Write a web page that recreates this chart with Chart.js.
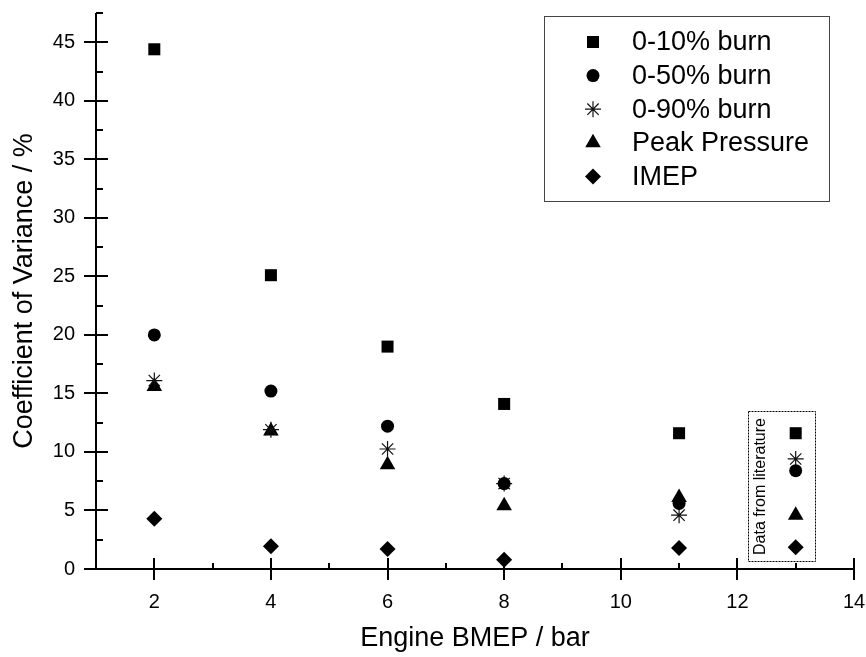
<!DOCTYPE html>
<html>
<head>
<meta charset="utf-8">
<title>Coefficient of Variance vs BMEP</title>
<script src="https://cdn.jsdelivr.net/npm/chart.js@4.4.0/dist/chart.umd.min.js"></script>
<style>
	body { margin: 0; background: #fff; }
	canvas { display: block; }
</style>
</head>
<body>
<canvas id="myChart" width="866" height="657"></canvas>
<script>
// engine BMEP in bar, the last column (13) is the data from literature
var bmep = [2, 4, 6, 8, 11, 13];
var burn10 = [44.4, 25.1, 19.0, 14.1, 11.6, 11.6];
var burn50 = [20.0, 15.2, 12.2, 7.3, 5.6, 8.4];
var burn90 = [16.1, 11.9, 10.25, 7.3, 4.6, 9.4];
var peakPressure = [15.6, 11.8, 8.9, 5.4, 6.1, 4.6];
var imep = [4.3, 1.95, 1.7, 0.8, 1.8, 1.85];

var xTicks = [2, 4, 6, 8, 10, 12, 14];
var yTicks = [0, 5, 10, 15, 20, 25, 30, 35, 40, 45];

Chart.defaults.font.family = "'Liberation Sans', Arial, sans-serif";
Chart.defaults.color = '#000';

function points(values) {
	return values.map(function(v, i) {
		return { x: bmep[i], y: v };
	});
}

function series(label, values, style, radius) {
	return {
		label: label,
		data: points(values),
		pointStyle: style,
		pointRadius: radius,
		pointHoverRadius: radius,
		backgroundColor: '#000',
		borderColor: style === 'star' ? '#111' : '#000',
		borderWidth: style === 'star' ? 1.2 : 0
	};
}

// no extra room round the plot, the layout padding decides it
function noPadding(scale) {
	scale.paddingTop = 0;
	scale.paddingBottom = 0;
	scale.paddingLeft = 0;
	scale.paddingRight = 0;
}

// ticks crossing the axes, minor ticks inside
var axesPlugin = {
	id: 'axesPlugin',
	afterDraw: function(chart) {
		var ctx = chart.ctx;
		var area = chart.chartArea;
		var xs = chart.scales.x, ys = chart.scales.y;
		ctx.save();
		ctx.strokeStyle = '#000';
		ctx.lineWidth = 2;
		ctx.beginPath();
		ctx.moveTo(area.left, area.top);
		ctx.lineTo(area.left, area.bottom);
		ctx.lineTo(area.right, area.bottom);
		xs.ticks.forEach(function(t) {
			var px = Math.round(xs.getPixelForValue(t.value));
			ctx.moveTo(px, area.bottom - 11);
			ctx.lineTo(px, area.bottom + 11);
		});
		for (var v = 1; v < 14; v += 2) {
			var mx = Math.round(xs.getPixelForValue(v));
			ctx.moveTo(mx, area.bottom);
			ctx.lineTo(mx, area.bottom - 6);
		}
		ys.ticks.forEach(function(t) {
			var py = Math.round(ys.getPixelForValue(t.value));
			ctx.moveTo(area.left - 12, py);
			ctx.lineTo(area.left + 12, py);
		});
		for (var w = 2.5; w <= 47.5; w += 5) {
			var my = Math.round(ys.getPixelForValue(w));
			ctx.moveTo(area.left, my);
			ctx.lineTo(area.left + 7, my);
		}
		ctx.stroke();
		ctx.restore();
	}
};

// boxed legend in the top right corner
var legendPlugin = {
	id: 'legendPlugin',
	afterDraw: function(chart) {
		var ctx = chart.ctx;
		var area = chart.chartArea;
		var right = area.right - 25, top = area.top + 3;
		var left = right - 285;
		ctx.save();
		ctx.strokeStyle = '#444';
		ctx.lineWidth = 1;
		ctx.strokeRect(left + 0.5, top + 0.5, 285, 185);
		ctx.font = "27px 'Liberation Sans', Arial, sans-serif";
		ctx.textBaseline = 'middle';
		ctx.textAlign = 'left';
		chart.data.datasets.forEach(function(ds, i) {
			var y = top + 26 + i * 33.6;
			ctx.fillStyle = ds.backgroundColor;
			ctx.strokeStyle = ds.borderColor;
			ctx.lineWidth = ds.borderWidth;
			Chart.helpers.drawPoint(ctx, {
				pointStyle: ds.pointStyle,
				radius: ds.pointRadius,
				borderWidth: ds.borderWidth,
				rotation: 0
			}, left + 49, y);
			ctx.fillStyle = '#000';
			ctx.fillText(ds.label, left + 88, y + 1);
		});
		ctx.restore();
	}
};

// dotted box round the literature values
var literaturePlugin = {
	id: 'literaturePlugin',
	afterDraw: function(chart) {
		var ctx = chart.ctx;
		var xs = chart.scales.x, ys = chart.scales.y;
		var x0 = Math.round(xs.getPixelForValue(12.19)) + 0.5;
		var x1 = Math.round(xs.getPixelForValue(13.33)) + 0.5;
		var y0 = Math.round(ys.getPixelForValue(13.5)) + 0.5;
		var y1 = Math.round(ys.getPixelForValue(0.7)) + 0.5;
		ctx.save();
		ctx.strokeStyle = '#000';
		ctx.lineWidth = 1;
		ctx.setLineDash([2, 1]);
		ctx.strokeRect(x0, y0, x1 - x0, y1 - y0);
		ctx.setLineDash([]);
		ctx.translate(x0 + 12, (y0 + y1) / 2);
		ctx.rotate(-Math.PI / 2);
		ctx.font = "16px 'Liberation Sans', Arial, sans-serif";
		ctx.textAlign = 'center';
		ctx.textBaseline = 'middle';
		ctx.fillStyle = '#000';
		ctx.fillText('Data from literature', 0, 0);
		ctx.restore();
	}
};

var ctx = document.getElementById('myChart').getContext('2d');
var myChart = new Chart(ctx, {
	type: 'scatter',
	data: {
		datasets: [
			series('0-10% burn', burn10, 'rect', 8.5),
			series('0-50% burn', burn50, 'circle', 6.5),
			series('0-90% burn', burn90, 'star', 8),
			series('Peak Pressure', peakPressure, 'triangle', 9),
			series('IMEP', imep, 'rectRot', 8)
		]
	},
	options: {
		responsive: false,
		animation: false,
		layout: { padding: { top: 13, right: 12, left: 0, bottom: 0 } },
		plugins: {
			legend: { display: false },
			tooltip: { enabled: false }
		},
		scales: {
			x: {
				type: 'linear',
				min: 1,
				max: 14,
				grid: { display: false },
				border: { display: false },
				ticks: { font: { size: 20 }, padding: 13, maxRotation: 0 },
				afterBuildTicks: function(scale) {
					scale.ticks = xTicks.map(function(v) { return { value: v }; });
				},
				afterFit: function(scale) {
					scale.height = 88;
					noPadding(scale);
				},
				title: {
					display: true,
					text: 'Engine BMEP / bar',
					font: { size: 27 },
					padding: { top: 0, bottom: 2 }
				}
			},
			y: {
				type: 'linear',
				min: 0,
				max: 47.5,
				grid: { display: false },
				border: { display: false },
				ticks: { font: { size: 20 }, padding: 13 },
				afterBuildTicks: function(scale) {
					scale.ticks = yTicks.map(function(v) { return { value: v }; });
				},
				afterFit: function(scale) {
					scale.width = 96;
					noPadding(scale);
				},
				title: {
					display: true,
					text: 'Coefficient of Variance / %',
					font: { size: 27 },
					padding: { top: 8, bottom: 0 }
				}
			}
		}
	},
	plugins: [axesPlugin, legendPlugin, literaturePlugin]
});
</script>
</body>
</html>
